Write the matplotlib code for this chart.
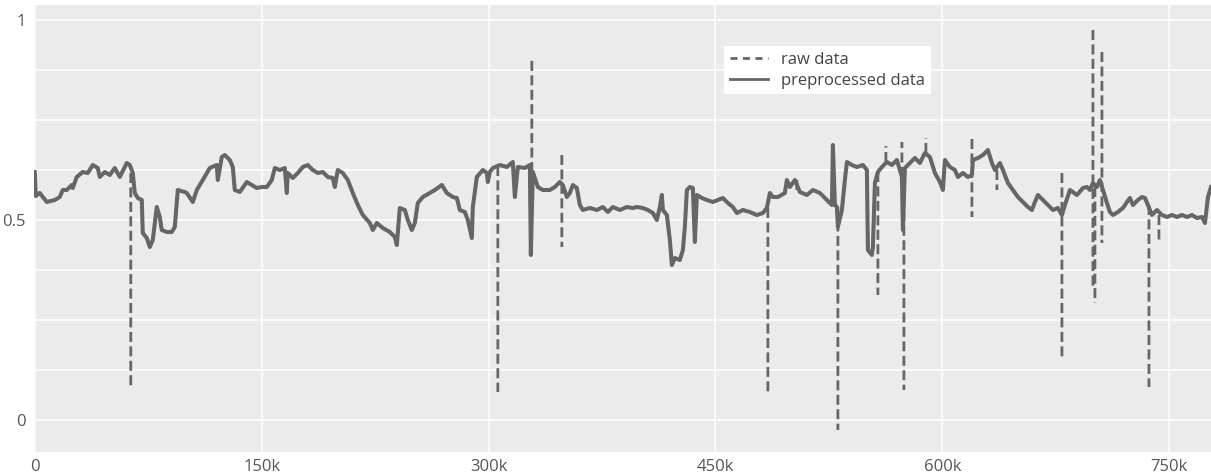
import matplotlib
matplotlib.use("Agg")
import matplotlib.pyplot as plt
from matplotlib.ticker import FixedLocator, MultipleLocator
from matplotlib.lines import Line2D

# ---------------- data ----------------
pre_x = [0, 700, 3306, 7934, 13224, 16530, 18514, 21158, 24464, 25126, 27770, 31738, 35044,
         38350, 41656, 42978, 46284, 49590, 52896, 56202, 60830, 62814, 64798, 66120, 68104,
         70748, 71410, 74054, 76038, 78022, 80666, 82650, 83972, 87278, 90584, 92568, 94552,
         99180, 100502, 104470, 107114, 111082, 115710, 120338, 121000, 123644, 125628, 128934,
         130918, 132240, 135546, 140174, 143480, 146786, 150092, 153398, 156704, 158688, 161994,
         165300, 166622, 167284, 170590, 173896, 177202, 180508, 183814, 187120, 190426, 193732,
         197040, 198362, 200346, 203652, 206958, 210264, 213570, 216876, 221504, 223488, 226133,
         230100, 234726, 238032, 239354, 241338, 244644, 246628, 249272, 251256, 253240, 256546,
         261174, 264480, 269108, 272414, 276382, 279026, 281010, 284316, 286300, 288944, 289606,
         292250, 296218, 298862, 299524, 300846, 302830, 307458, 312086, 316054, 317376, 319360,
         323988, 327294, 327956, 329276, 332586, 335890, 340518, 343824, 347130, 349114, 351758,
         353742, 355726, 358370, 360354, 362338, 366966, 371594, 375562, 378868, 382174, 386802,
         391430, 395398, 398042, 402010, 405316, 408622, 411266, 413250, 414572, 415236, 417878,
         419862, 421184, 423168, 426474, 428458, 429780, 431102, 433086, 435070, 436392, 437714,
         441020, 444326, 448294, 451600, 454906, 458212, 461518, 464162, 468130, 472758, 477386,
         481354, 484000, 485982, 487966, 491272, 495900, 497224, 499206, 502512, 505818, 510446,
         514414, 519042, 523670, 526976, 527638, 528960, 530282, 530944, 533588, 535572, 536894,
         540200, 543506, 547474, 550118, 550780, 553424, 554086, 555408, 557392, 560036, 563342,
         566648, 569954, 573260, 573922, 575244, 578550, 581856, 585162, 588468, 591774, 595080,
         598386, 600370, 601692, 604998, 608304, 610288, 613594, 616900, 619544, 620206, 623512,
         626818, 630124, 632768, 634752, 638058, 640042, 643348, 646654, 649960, 653266, 656572,
         659216, 661200, 663184, 666490, 669796, 673102, 676408, 679052, 681036, 684342, 688970,
         692938, 695582, 697566, 699550, 702194, 704178, 706162, 708806, 710790, 712774, 716080,
         719386, 722030, 724014, 725998, 729304, 731948, 733932, 735916, 738560, 741866, 745172,
         748478, 751784, 755090, 758396, 761702, 765008, 768314, 771620, 773604, 775588, 777572]
pre_y = [0.62, 0.56, 0.5675, 0.545, 0.55, 0.5575, 0.575, 0.575, 0.5875, 0.58, 0.6075, 0.62, 0.6175,
         0.6375, 0.63, 0.6075, 0.62, 0.6125, 0.63, 0.6075, 0.6425, 0.6375, 0.6175, 0.5675, 0.555,
         0.55, 0.4675, 0.455, 0.4325, 0.45, 0.5325, 0.5075, 0.475, 0.47, 0.47, 0.4825, 0.575,
         0.57, 0.5675, 0.545, 0.575, 0.60, 0.63, 0.6375, 0.60, 0.6575, 0.6625, 0.65,
         0.6325, 0.575, 0.57, 0.595, 0.5875, 0.58, 0.5825, 0.5825, 0.60, 0.63, 0.625,
         0.63, 0.5675, 0.6175, 0.605, 0.6175, 0.6325, 0.6375, 0.625, 0.6175, 0.62, 0.6075,
         0.605, 0.5825, 0.625, 0.6175, 0.60, 0.5675, 0.5375, 0.5125, 0.4925, 0.475, 0.4925,
         0.48, 0.47, 0.4575, 0.4375, 0.53, 0.525, 0.50, 0.475, 0.4925, 0.5425, 0.5575,
         0.5675, 0.575, 0.5875, 0.5675, 0.5575, 0.555, 0.525, 0.52, 0.50, 0.455, 0.5325,
         0.6075, 0.625, 0.6175, 0.595, 0.62, 0.63, 0.6375, 0.6325, 0.645, 0.5575, 0.6325,
         0.63, 0.6375, 0.4125, 0.62, 0.5825, 0.575, 0.575, 0.5825, 0.595, 0.5875, 0.5575,
         0.5675, 0.5875, 0.58, 0.5375, 0.525, 0.53, 0.525, 0.5325, 0.52, 0.5325, 0.525,
         0.5325, 0.53, 0.5325, 0.53, 0.525, 0.5175, 0.50, 0.5325, 0.5625, 0.525, 0.5125,
         0.45, 0.3875, 0.405, 0.40, 0.425, 0.4825, 0.575, 0.5825, 0.58, 0.445, 0.5625,
         0.555, 0.55, 0.545, 0.55, 0.555, 0.5425, 0.5325, 0.5175, 0.525, 0.52, 0.5125,
         0.5175, 0.53, 0.5675, 0.5575, 0.5575, 0.5675, 0.60, 0.5825, 0.60, 0.57, 0.5625,
         0.575, 0.5675, 0.55, 0.5375, 0.6875, 0.5375, 0.5325, 0.4825, 0.525, 0.60, 0.645,
         0.6375, 0.6325, 0.6375, 0.625, 0.425, 0.4125, 0.4325, 0.5925, 0.62, 0.6325, 0.645,
         0.6375, 0.65, 0.6075, 0.475, 0.63, 0.6425, 0.655, 0.6425, 0.6675, 0.6575, 0.6175,
         0.595, 0.575, 0.65, 0.6325, 0.625, 0.6075, 0.6175, 0.6075, 0.6125, 0.65, 0.655,
         0.6625, 0.675, 0.6425, 0.625, 0.6425, 0.625, 0.5925, 0.575, 0.5575, 0.545, 0.5325,
         0.525, 0.545, 0.5625, 0.55, 0.5375, 0.525, 0.53, 0.5125, 0.5375, 0.575, 0.5625,
         0.58, 0.5825, 0.575, 0.5925, 0.5825, 0.60, 0.575, 0.5425, 0.52, 0.5125, 0.52,
         0.53, 0.545, 0.555, 0.5375, 0.55, 0.5575, 0.555, 0.5375, 0.5125, 0.525, 0.5125,
         0.5075, 0.5125, 0.5075, 0.5125, 0.5075, 0.5125, 0.505, 0.5075, 0.4925, 0.5575, 0.5825]

# raw-data outliers: x position and the vertical excursion (start value -> end value)
spike_x = [63475, 306136, 328616, 348450, 484660, 503834, 530944, 557392, 562682, 573260,
           574583, 589130, 619544, 636076, 679052, 699550, 700872, 705500, 736577, 743189]
spike_from = [0.6175, 0.635, 0.62, 0.6625, 0.53, 0.575, 0.5325, 0.62, 0.645, 0.6075,
              0.63, 0.6675, 0.7025, 0.625, 0.6175, 0.975, 0.5825, 0.92, 0.5375, 0.5125]
spike_to = [0.08, 0.07, 0.90, 0.4325, 0.0675, 0.6075, -0.025, 0.3125, 0.685, 0.695,
            0.075, 0.705, 0.5075, 0.575, 0.15, 0.33, 0.2925, 0.4425, 0.0825, 0.45]

x_ticks = [0, 150000, 300000, 450000, 600000, 750000]
x_tick_labels = ["0", "150k", "300k", "450k", "600k", "750k"]
y_ticks = [0, 0.5, 1]
y_tick_labels = ["0", "0.5", "1"]
series_names = ["raw data", "preprocessed data"]

# ---------------- build raw series (preprocessed points + outliers) ----------------
nan = float('nan')
raw_x, raw_y = [], []
k = 0
for sx, a, b in zip(spike_x, spike_from, spike_to):
    while k < len(pre_x) and pre_x[k] <= sx:
        raw_x.append(pre_x[k]); raw_y.append(pre_y[k]); k += 1
    raw_x += [nan, sx, sx, nan]
    raw_y += [nan, a, b, nan]
while k < len(pre_x):
    raw_x.append(pre_x[k]); raw_y.append(pre_y[k]); k += 1

# ---------------- figure ----------------
plt.rcParams['font.family'] = ['Open Sans', 'DejaVu Sans']
W, H = 1211, 474
fig = plt.figure(figsize=(W / 100, H / 100), dpi=100)
ax = fig.add_axes([34 / W, 1 - 452 / H, (1211 - 34) / W, (452 - 5) / H])
ax.set_facecolor('#ebebeb')

line_col = '#666666'
ax.plot(raw_x, raw_y, color=line_col, lw=2.0, dashes=(3.6, 1.6), zorder=2)
ax.plot(pre_x, pre_y, color=line_col, lw=2.9, solid_joinstyle='round', zorder=3)

ax.set_xlim(-500, 777600)
ax.set_ylim(-0.08, 1.0375)

ax.xaxis.set_major_locator(FixedLocator(x_ticks))
ax.set_xticklabels(x_tick_labels)
ax.yaxis.set_major_locator(FixedLocator(y_ticks))
ax.set_yticklabels(y_tick_labels)
ax.yaxis.set_minor_locator(MultipleLocator(0.125))

ax.grid(True, which='major', axis='both', color='white', lw=1.1, zorder=0)
ax.grid(True, which='minor', axis='y', color='white', lw=1.1, zorder=0)
ax.set_axisbelow(True)
for s in ax.spines.values():
    s.set_visible(False)
ax.tick_params(axis='both', which='both', length=0, labelsize=12, labelcolor='#555555')
ax.tick_params(axis='x', pad=5)
ax.tick_params(axis='y', pad=6)

handles = [Line2D([], [], color=line_col, lw=2.0, dashes=(2.5, 2.0)),
           Line2D([], [], color=line_col, lw=2.0)]
leg = ax.legend(handles, series_names, loc='upper left', bbox_to_anchor=(0.586, 0.908),
                borderaxespad=0, frameon=True, fancybox=False, fontsize=12,
                handlelength=2.3, handletextpad=0.8, labelspacing=0.28,
                borderpad=0.35)
leg.get_frame().set_facecolor('white')
leg.get_frame().set_edgecolor('none')
leg.get_frame().set_alpha(1)
for t in leg.get_texts():
    t.set_color('#444444')

fig.savefig('out.png', dpi=100)
